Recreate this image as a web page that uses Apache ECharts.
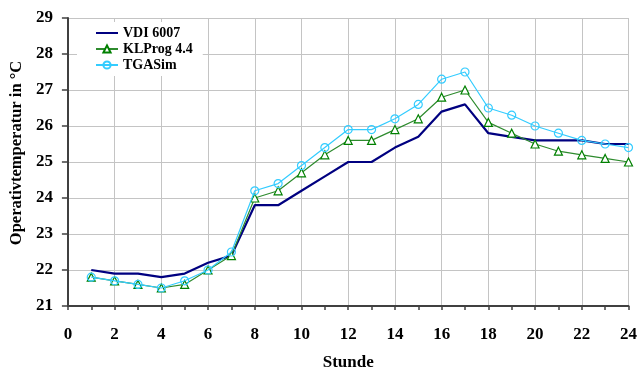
<!DOCTYPE html>
<html>
<head>
<meta charset="utf-8">
<script src="https://cdn.jsdelivr.net/npm/echarts@6/dist/echarts.min.js"></script>
<style>
  html, body { margin: 0; padding: 0; background: #fff; }
  #chart { width: 640px; height: 376px; }
</style>
</head>
<body>
<div id="chart"></div>
<script>
const hours = [1, 2, 3, 4, 5, 6, 7, 8, 9, 10, 11, 12, 13, 14, 15, 16, 17, 18, 19, 20, 21, 22, 23, 24];
const vdi6007 = [22.0, 21.9, 21.9, 21.8, 21.9, 22.2, 22.4, 23.8, 23.8, 24.2, 24.6, 25.0, 25.0, 25.4, 25.7, 26.4, 26.6, 25.8, 25.7, 25.6, 25.6, 25.6, 25.5, 25.5];
const klprog = [21.8, 21.7, 21.6, 21.5, 21.6, 22.0, 22.4, 24.0, 24.2, 24.7, 25.2, 25.6, 25.6, 25.9, 26.2, 26.8, 27.0, 26.1, 25.8, 25.5, 25.3, 25.2, 25.1, 25.0];
const tgasim = [21.8, 21.7, 21.6, 21.5, 21.7, 22.0, 22.5, 24.2, 24.4, 24.9, 25.4, 25.9, 25.9, 26.2, 26.6, 27.3, 27.5, 26.5, 26.3, 26.0, 25.8, 25.6, 25.5, 25.4];

const font = 'Liberation Serif';
const pairs = (vals) => hours.map((h, i) => [h, vals[i]]);

const chart = echarts.init(document.getElementById('chart'));
chart.setOption({
  animation: false,
  grid: { left: 67, right: 10, top: 18, bottom: 64 },
  legend: {
    left: 77,
    top: 22,
    orient: 'vertical',
    backgroundColor: '#fff',
    padding: [4, 10, 4, 18],
    itemGap: 2,
    itemWidth: 22,
    itemHeight: 9,
    textStyle: { fontFamily: font, fontWeight: 'bold', fontSize: 14, color: '#000' },
    data: ['VDI 6007', 'KLProg 4.4', 'TGASim'],
  },
  xAxis: {
    type: 'value',
    min: 0,
    max: 24,
    interval: 2,
    name: 'Stunde',
    nameLocation: 'middle',
    nameGap: 48,
    nameTextStyle: { fontFamily: font, fontWeight: 'bold', fontSize: 17, color: '#000' },
    axisLine: { lineStyle: { color: '#404040', width: 2 } },
    axisTick: { length: 4, lineStyle: { color: '#404040', width: 1.5 } },
    minorTick: { show: true, splitNumber: 2, length: 4, lineStyle: { color: '#404040', width: 1.5 } },
    axisLabel: { fontFamily: font, fontWeight: 'bold', fontSize: 17, color: '#000', margin: 20 },
    splitLine: { show: true, lineStyle: { color: '#c4c4c4', width: 1 } },
  },
  yAxis: {
    type: 'value',
    min: 21,
    max: 29,
    interval: 1,
    name: 'Operativtemperatur in °C',
    nameLocation: 'middle',
    nameRotate: 90,
    nameGap: 40,
    nameTextStyle: {
      fontFamily: font, fontWeight: 'bold', fontSize: 16.5, color: '#000',
      padding: [0, 0, 0, 18],
    },
    axisLine: { show: true, lineStyle: { color: '#404040', width: 2 } },
    axisTick: { show: true, length: 6, lineStyle: { color: '#404040', width: 1.5 } },
    axisLabel: { fontFamily: font, fontWeight: 'bold', fontSize: 17, color: '#000', margin: 15 },
    splitLine: { show: true, lineStyle: { color: '#c4c4c4', width: 1 } },
  },
  series: [
    {
      name: 'VDI 6007',
      type: 'line',
      data: pairs(vdi6007),
      symbol: 'none',
      color: '#000080',
      itemStyle: { opacity: 0 },
      lineStyle: { width: 2.2, color: '#000080' },
      z: 3,
    },
    {
      name: 'KLProg 4.4',
      type: 'line',
      data: pairs(klprog),
      symbol: 'triangle',
      symbolSize: 8,
      color: '#008000',
      itemStyle: { color: '#fff', borderColor: '#008000', borderWidth: 1.2 },
      lineStyle: { width: 1.2, color: '#2e8b2e' },
      z: 4,
    },
    {
      name: 'TGASim',
      type: 'line',
      data: pairs(tgasim),
      symbol: 'circle',
      symbolSize: 8,
      color: '#33ccff',
      itemStyle: { color: 'rgba(255,255,255,0)', borderColor: '#33ccff', borderWidth: 1.2 },
      lineStyle: { width: 1.2, color: '#33ccff' },
      z: 5,
    },
  ],
});
</script>
</body>
</html>
